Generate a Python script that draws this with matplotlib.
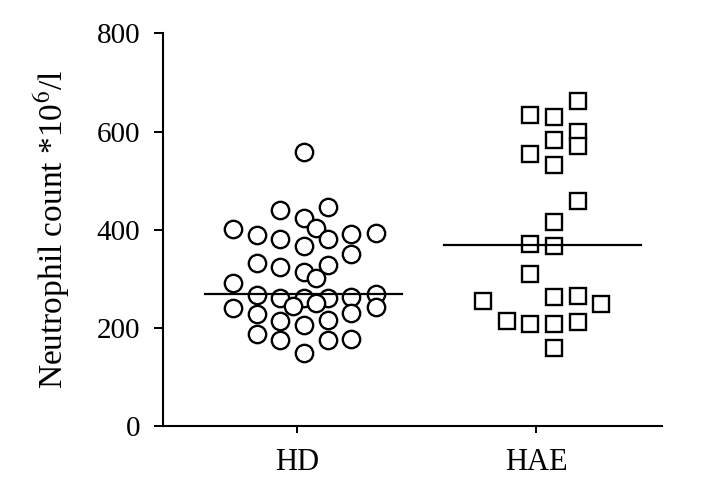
"""
Neutrophil count scatter (HD vs HAE) with median lines.
"""

import matplotlib

matplotlib.use('Agg')
import matplotlib.pyplot as plt
import numpy as np

groups = ["HD", "HAE"]

# HD values and horizontal offsets (category units)
hd_values = [558, 440, 446, 423, 404, 402, 389, 382, 382, 391, 393, 366, 350,
             333, 324, 328, 314, 302, 292, 267, 261, 261, 261, 263, 269, 244,
             250, 240, 242, 228, 231, 214, 217, 206, 187, 175, 176, 177, 149]
hd_offsets = [0.028, -0.070, 0.132, 0.028, 0.081, -0.268, -0.167, -0.070, 0.132,
              0.226, 0.331, 0.028, 0.226, -0.167, -0.070, 0.132, 0.028, 0.081,
              -0.268, -0.167, -0.070, 0.028, 0.132, 0.226, 0.331, -0.017,
              0.081, -0.268, 0.331, -0.167, 0.226, -0.070, 0.132, 0.028,
              -0.167, -0.070, 0.132, 0.226, 0.028]

hae_values = [663, 634, 630, 599, 583, 570, 554, 531, 459, 416, 370, 366, 309,
              255, 263, 265, 248, 214, 207, 207, 211, 159]
hae_offsets = [0.177, -0.025, 0.077, 0.177, 0.077, 0.177, -0.025, 0.077, 0.177,
               0.077, -0.025, 0.077, -0.025, -0.220, 0.077, 0.177, 0.272,
               -0.123, -0.025, 0.077, 0.177, 0.077]

medians = [269, 368]

plt.rcParams["font.family"] = ["Liberation Serif", "DejaVu Serif"]
plt.rcParams["mathtext.fontset"] = "stix"

fig = plt.figure(figsize=(7.07, 4.94), dpi=100)
ax = fig.add_axes([0.2306, 0.1377, 0.7058, 0.7945])

ax.plot(1 + np.array(hd_offsets), hd_values, linestyle="none", marker="o",
        markersize=12.5, markerfacecolor="white", markeredgecolor="black",
        markeredgewidth=1.7)
ax.plot(2 + np.array(hae_offsets), hae_values, linestyle="none", marker="s",
        markersize=12.0, markerfacecolor="white", markeredgecolor="black",
        markeredgewidth=1.7)

for i, m in enumerate(medians):
    ax.plot([i + 1 - 0.385, i + 1 + 0.44], [m, m], color="black", linewidth=1.6,
            zorder=3)

ax.set_xlim(0.44, 2.527)
ax.set_ylim(0, 800)
ax.set_xticks([1, 2])
ax.set_xticklabels(groups, fontsize=22)
ax.set_yticks([0, 200, 400, 600, 800])
ax.tick_params(axis="y", labelsize=21, length=6.5, width=1.4, pad=10)
ax.tick_params(axis="x", length=5, width=1.4, pad=11)
ax.set_ylabel(r"Neutrophil count *10$^{6}$/l", fontsize=24, labelpad=17)

for side in ["top", "right"]:
    ax.spines[side].set_visible(False)
for side in ["left", "bottom"]:
    ax.spines[side].set_linewidth(1.5)

fig.savefig("out.png", dpi=100)
plt.close(fig)
